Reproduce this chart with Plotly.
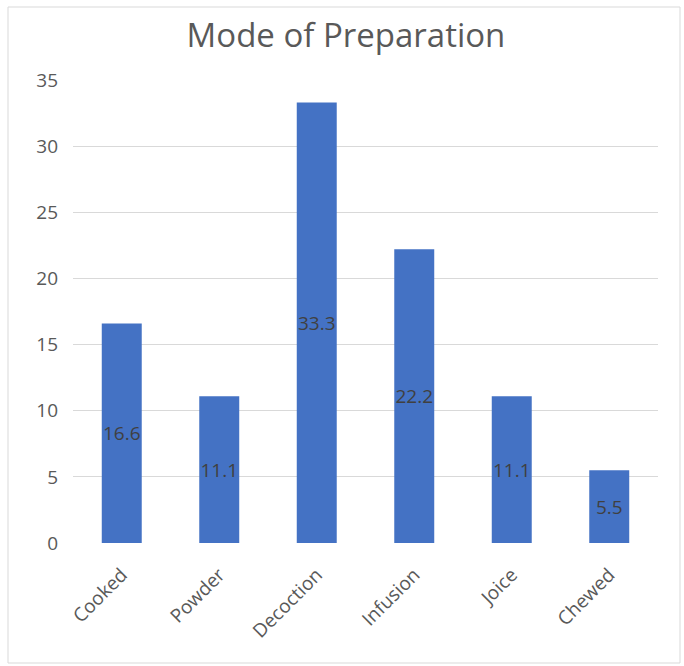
import plotly.graph_objects as go

categories = ["Cooked", "Powder", "Decoction", "Infusion", "Joice", "Chewed"]
values = [16.6, 11.1, 33.3, 22.2, 11.1, 5.5]
value_labels = ["16.6", "11.1", "33.3", "22.2", "11.1", "5.5"]
y_ticks = [0, 5, 10, 15, 20, 25, 30, 35]

W, H = 684, 666
L, R, T, B = 73, 26, 80, 123
pw, ph = W - L - R, H - T - B

fig = go.Figure(go.Bar(
    x=categories, y=values, text=value_labels,
    textposition="inside", insidetextanchor="middle", textangle=0,
    textfont=dict(family="Open Sans", size=19, color="#404040"),
    marker=dict(color="#4472C4", line=dict(width=0)),
    hoverinfo="skip", constraintext="none",
))

def px_x(v):
    return (v - L) / pw

def px_y(v):
    return (H - B - v) / ph

fig.update_layout(
    width=W, height=H,
    margin=dict(l=L, r=R, t=T, b=B),
    paper_bgcolor="white", plot_bgcolor="white",
    bargap=0.59,
    showlegend=False,
    title=dict(text="Mode of Preparation", x=346 / W, xref="container", y=1 - 35 / H, yanchor="middle",
               xanchor="center", font=dict(family="Open Sans", size=33, color="#595959")),
    font=dict(family="Open Sans", color="#595959"),
    shapes=[dict(type="rect", xref="paper", yref="paper",
                 x0=px_x(8), x1=px_x(680), y0=px_y(663), y1=px_y(7),
                 line=dict(color="#d9d9d9", width=1), fillcolor="rgba(0,0,0,0)", layer="below")],
)
fig.update_xaxes(tickangle=-45, tickfont=dict(size=19, color="#595959"), showgrid=False,
                 showline=False, ticks="", ticklabelstandoff=16)
fig.update_yaxes(range=[0, 35], tickvals=y_ticks, tickfont=dict(size=19, color="#595959"),
                 showgrid=True, gridcolor="#d9d9d9", gridwidth=1, zeroline=False,
                 showline=False, ticks="", ticklabelstandoff=14)
fig.write_html("out.html")
